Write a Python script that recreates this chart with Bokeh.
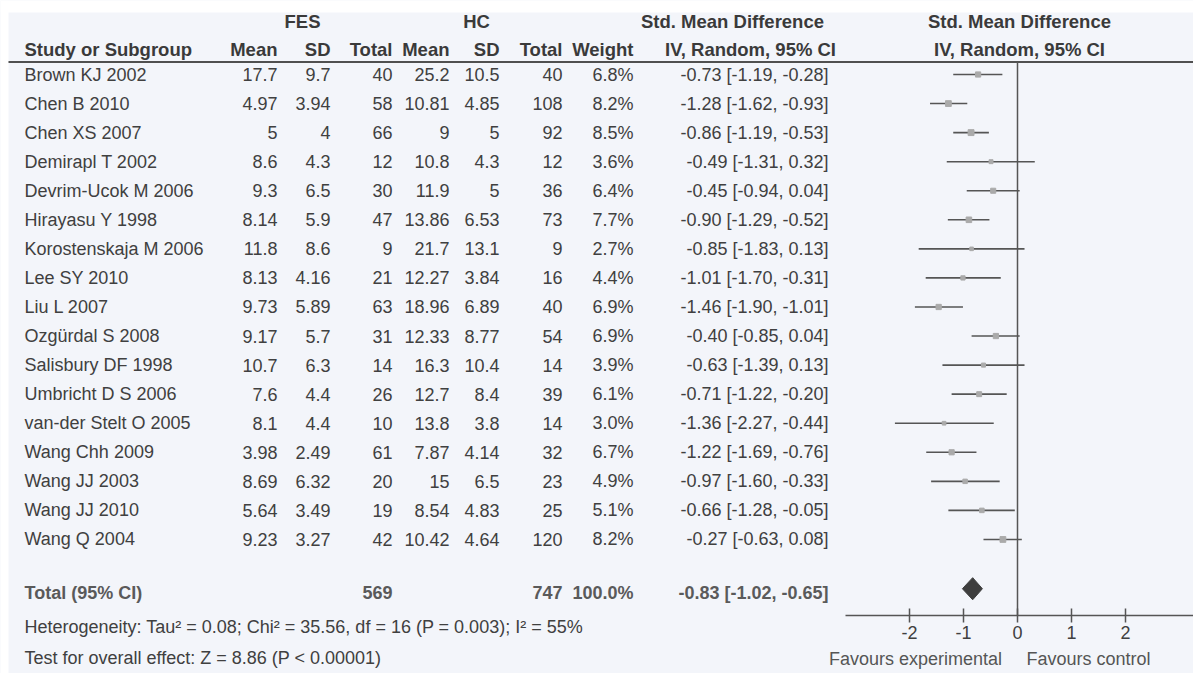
from bokeh.plotting import figure
from bokeh.models import Range1d, LinearAxis, FixedTicker, ColumnDataSource
from bokeh.core.properties import value
from bokeh.embed import file_html
from bokeh.resources import INLINE

# ---------------- data ----------------
studies = ["Brown KJ 2002", "Chen B 2010", "Chen XS 2007", "Demirapl T 2002",
           "Devrim-Ucok M 2006", "Hirayasu Y 1998", "Korostenskaja M 2006",
           "Lee SY 2010", "Liu L 2007", "Ozgürdal S 2008", "Salisbury DF 1998",
           "Umbricht D S 2006", "van-der Stelt O 2005", "Wang Chh 2009",
           "Wang JJ 2003", "Wang JJ 2010", "Wang Q 2004"]
fes_mean = [17.7, 4.97, 5, 8.6, 9.3, 8.14, 11.8, 8.13, 9.73, 9.17, 10.7, 7.6, 8.1, 3.98, 8.69, 5.64, 9.23]
fes_sd = [9.7, 3.94, 4, 4.3, 6.5, 5.9, 8.6, 4.16, 5.89, 5.7, 6.3, 4.4, 4.4, 2.49, 6.32, 3.49, 3.27]
fes_n = [40, 58, 66, 12, 30, 47, 9, 21, 63, 31, 14, 26, 10, 61, 20, 19, 42]
hc_mean = [25.2, 10.81, 9, 10.8, 11.9, 13.86, 21.7, 12.27, 18.96, 12.33, 16.3, 12.7, 13.8, 7.87, 15, 8.54, 10.42]
hc_sd = [10.5, 4.85, 5, 4.3, 5, 6.53, 13.1, 3.84, 6.89, 8.77, 10.4, 8.4, 3.8, 4.14, 6.5, 4.83, 4.64]
hc_n = [40, 108, 92, 12, 36, 73, 9, 16, 40, 54, 14, 39, 14, 32, 23, 25, 120]
weight = [6.8, 8.2, 8.5, 3.6, 6.4, 7.7, 2.7, 4.4, 6.9, 6.9, 3.9, 6.1, 3.0, 6.7, 4.9, 5.1, 8.2]
smd = [-0.73, -1.28, -0.86, -0.49, -0.45, -0.90, -0.85, -1.01, -1.46, -0.40, -0.63, -0.71, -1.36, -1.22, -0.97, -0.66, -0.27]
ci_lo = [-1.19, -1.62, -1.19, -1.31, -0.94, -1.29, -1.83, -1.70, -1.90, -0.85, -1.39, -1.22, -2.27, -1.69, -1.60, -1.28, -0.63]
ci_hi = [-0.28, -0.93, -0.53, 0.32, 0.04, -0.52, 0.13, -0.31, -1.01, 0.04, 0.13, -0.20, -0.44, -0.76, -0.33, -0.05, 0.08]

total_fes_n = 569
total_hc_n = 747
total_weight = 100.0
total_smd, total_lo, total_hi = -0.83, -1.02, -0.65
heterogeneity = "Heterogeneity: Tau² = 0.08; Chi² = 35.56, df = 16 (P = 0.003); I² = 55%"
overall = "Test for overall effect: Z = 8.86 (P < 0.00001)"
axis_ticks = [-2, -1, 0, 1, 2]
favours = ["Favours experimental", "Favours control"]

# ---------------- layout ----------------
W, H = 1193, 673
FONT = value("Liberation Sans")
FS = "18px"
HFS = "18.5px"
TXT = "#404040"
BG = "#f3f5fa"
PX0 = 1017.0   # pixel of SMD 0
PPU = 54.0     # pixels per SMD unit
Y0, STEP = 74.0, 29.06

def row_of(py):
    return (py - Y0) / STEP

rows = list(range(len(studies)))
total_row = row_of(592)
het_row = row_of(626)
test_row = row_of(657)
axis_row = row_of(615)
head1_row = row_of(21)
head2_row = row_of(49)
line_row = row_of(61.5)

p = figure(width=W, height=H, output_backend="svg", toolbar_location=None,
           x_range=Range1d(0, W), y_range=Range1d(row_of(H), row_of(0)),
           min_border=0, x_axis_type=None, y_axis_type=None)
p.outline_line_color = None
p.background_fill_color = BG
p.border_fill_color = BG
p.extra_x_ranges = {"smd": Range1d((0 - PX0) / PPU, (W - PX0) / PPU)}

# white scan margin at top / left
p.quad(left=[0, 0], right=[W, 8], top=[row_of(0), row_of(0)], bottom=[row_of(12), row_of(H)],
       fill_color="white", line_color=None)

def fmt(v):
    return f"{v:g}"

src = ColumnDataSource(dict(
    y=rows, name=studies,
    fm=[fmt(v) for v in fes_mean], fs=[fmt(v) for v in fes_sd], fn=[str(v) for v in fes_n],
    hm=[fmt(v) for v in hc_mean], hs=[fmt(v) for v in hc_sd], hn=[str(v) for v in hc_n],
    w=[f"{v:.1f}%" for v in weight],
    ci=[f"{a:.2f} [{b:.2f}, {c:.2f}]" for a, b, c in zip(smd, ci_lo, ci_hi)],
    smd=smd, lo=ci_lo, hi=ci_hi,
    size=[2.5 + 0.4 * v for v in weight],
))

def col_text(x, field, align):
    p.text(x=x, y="y", text=field, source=src, text_align=align, text_baseline="middle",
           text_font=FONT, text_font_size=FS, text_color=TXT)

col_text(24, "name", "left")
col_text(277, "fm", "right")
col_text(330, "fs", "right")
col_text(392, "fn", "right")
col_text(449, "hm", "right")
col_text(499, "hs", "right")
col_text(562, "hn", "right")
col_text(633, "w", "right")
col_text(828, "ci", "right")

def txt(x, y, s, align="left", bold=False, color=TXT, size=FS):
    p.text(x=[x], y=[y], text=[s], text_align=align, text_baseline="middle",
           text_font=FONT, text_font_size=size, text_color=color,
           text_font_style="bold" if bold else "normal")

# headers
HC_ = "#3a3a3a"
txt(302, head1_row, "FES", "center", True, HC_, HFS)
txt(476, head1_row, "HC", "center", True, HC_, HFS)
txt(732, head1_row, "Std. Mean Difference", "center", True, HC_, HFS)
txt(1019, head1_row, "Std. Mean Difference", "center", True, HC_, HFS)
txt(24, head2_row, "Study or Subgroup", "left", True, HC_, HFS)
for x, s in [(277, "Mean"), (330, "SD"), (392, "Total"), (449, "Mean"),
             (499, "SD"), (562, "Total"), (633, "Weight")]:
    txt(x, head2_row, s, "right", True, HC_, HFS)
txt(750, head2_row, "IV, Random, 95% CI", "center", True, HC_, HFS)
txt(1019, head2_row, "IV, Random, 95% CI", "center", True, HC_, HFS)

p.segment(x0=[8], x1=[W], y0=[line_row], y1=[line_row], line_color="#505050", line_width=2)

# totals and footer
TOT = "#5a5a5a"
txt(24, total_row, "Total (95% CI)", "left", True, TOT)
txt(392, total_row, str(total_fes_n), "right", True, TOT)
txt(562, total_row, str(total_hc_n), "right", True, TOT)
txt(633, total_row, f"{total_weight:.1f}%", "right", True, TOT)
txt(828, total_row, f"{total_smd:.2f} [{total_lo:.2f}, {total_hi:.2f}]", "right", True, TOT)
txt(24, het_row, heterogeneity, "left", False, TXT)
txt(24, test_row, overall, "left", False, TXT)

# forest plot
p.segment(x0=[0], x1=[0], y0=[line_row], y1=[axis_row], x_range_name="smd",
          line_color="#555555", line_width=1.5)
p.segment(x0="lo", x1="hi", y0="y", y1="y", source=src, x_range_name="smd",
          line_color="#555555", line_width=1.6)
p.scatter(x="smd", y="y", size="size", marker="square", source=src, x_range_name="smd",
          fill_color="#aaaaaa", line_color="#aaaaaa")
dh = 0.38
dy = total_row - 0.13
p.patch(x=[total_lo, total_smd, total_hi, total_smd],
        y=[dy, dy - dh, dy, dy + dh],
        x_range_name="smd", fill_color="#3e3e3e", line_color="#3e3e3e")

ax = LinearAxis(x_range_name="smd", ticker=FixedTicker(ticks=axis_ticks),
                bounds=((845 - PX0) / PPU, (W - PX0) / PPU),
                fixed_location=axis_row)
ax.axis_line_color = "#555555"
ax.axis_line_width = 1.5
ax.major_tick_line_color = "#555555"
ax.major_tick_line_width = 1.5
ax.major_tick_in = 7
ax.major_tick_out = 7
ax.minor_tick_line_color = None
ax.major_label_overrides = {t: f"{t}" for t in axis_ticks}
ax.major_label_text_font = "Liberation Sans"
ax.major_label_text_font_size = FS
ax.major_label_text_color = TXT
ax.major_label_standoff = 3
p.add_layout(ax, "below")

txt(915, row_of(658), favours[0], "center", False, "#555555")
txt(1088, row_of(658), favours[1], "center", False, "#555555")

open("out.html", "w").write(file_html(p, INLINE))
